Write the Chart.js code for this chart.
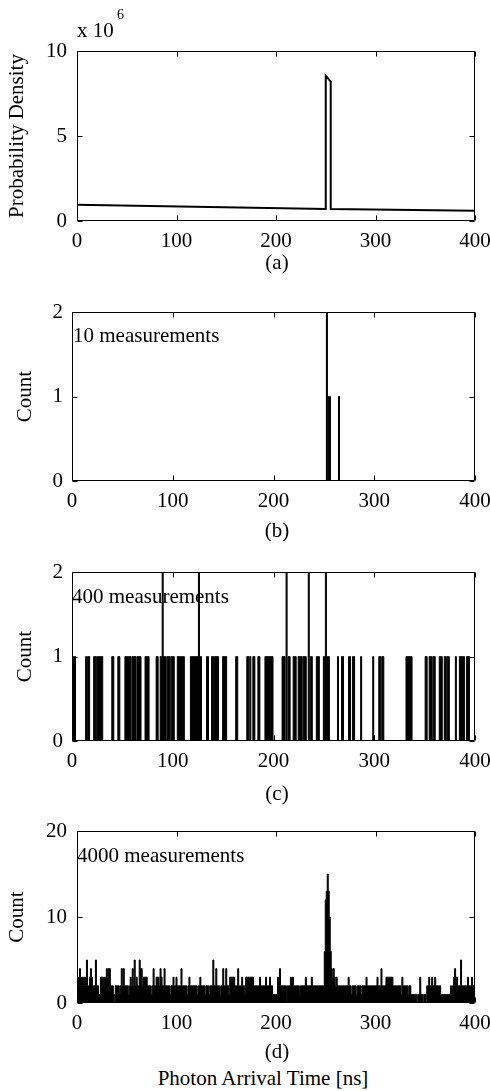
<!DOCTYPE html>
<html>
<head>
<meta charset="utf-8">
<script src="https://cdn.jsdelivr.net/npm/chart.js@4.4.1/dist/chart.umd.min.js"></script>
<style>
  body { margin: 0; background: #fff; }
  #page { position: relative; width: 490px; height: 1091px; overflow: hidden;
          font-family: 'Liberation Serif', 'Times New Roman', serif; color: #000; }
  canvas { position: absolute; left: 0; }
  .txt { position: absolute; font-size: 21px; line-height: 21px; white-space: nowrap; }
  .cap { position: absolute; left: 277px; transform: translateX(-50%); font-size: 21px; line-height: 21px; white-space: nowrap; }
</style>
</head>
<body>
<div id="page">
  <canvas id="chartA" width="490" height="256" style="top:0px"></canvas>
  <canvas id="chartB" width="490" height="226" style="top:290px"></canvas>
  <canvas id="chartC" width="490" height="226" style="top:550px"></canvas>
  <canvas id="chartD" width="490" height="228" style="top:810px"></canvas>

  <div class="txt" style="left:77px; top:20px;">x 10</div>
  <div class="txt" style="left:117px; top:8px; font-size:14px; line-height:14px;">6</div>
  <div class="txt" style="left:73px; top:325px;">10 measurements</div>
  <div class="txt" style="left:72px; top:586px;">400 measurements</div>
  <div class="txt" style="left:77px; top:845px;">4000 measurements</div>

  <div class="cap" style="top:252px;">(a)</div>
  <div class="cap" style="top:520px;">(b)</div>
  <div class="cap" style="top:783px;">(c)</div>
  <div class="cap" style="top:1041px;">(d)</div>
  <div class="cap" style="top:1068px; left:263px;">Photon Arrival Time [ns]</div>
</div>

<script>
// x axis: photon arrival time in ns, one bin per ns
const xTicks = [0, 100, 200, 300, 400];
const binCount = 400;

// (a) probability density, in units of 10^6
const timesA = [0, 250, 250, 255, 255, 400];
const densityA = [0.95, 0.71, 8.55, 8.2, 0.7, 0.6];

// (b) 10 measurements
const hitBinsB = [253, 255, 256, 265];
const hitCountsB = [2, 1, 1, 1];

// (c) 400 measurements: bins holding one count, bins holding two
const singleBinsC = [
  0, 1, 3, 14, 16, 17, 22, 23, 25, 26, 27, 28, 29, 30, 40, 41, 46, 47,
  53, 54, 55, 56, 57, 58, 60, 61, 62, 63, 65, 66, 67, 68, 73, 74, 75, 76,
  84, 85, 88, 89, 91, 92, 93, 95, 96, 97, 99, 100, 101, 105, 106, 107, 108, 109, 110, 111,
  118, 119, 120, 121, 122, 123, 124, 125, 127, 128, 134, 135, 139, 140, 142, 143, 144, 145,
  150, 151, 152, 153, 163, 164, 174, 175, 177, 180, 181, 185, 186,
  192, 193, 194, 195, 196, 197, 198, 199, 209, 210, 211, 215, 216, 220, 221, 222,
  225, 226, 227, 228, 230, 231, 232, 237, 238, 243, 244, 245, 250, 251, 253, 254, 255,
  264, 268, 269, 275, 276, 279, 280, 287, 299, 305, 306, 308, 309,
  332, 333, 334, 335, 336, 337, 351, 352, 355, 356, 357, 359, 360,
  365, 366, 367, 370, 371, 373, 374, 381, 385, 386, 387, 388, 389, 392, 393, 394
];
const doubleBinsC = [90, 126, 213, 235, 252];

// (d) 4000 measurements, counts per ns bin
const countsD = [
  2,3,2,4,2,3,3,2,3,2,  5,2,2,3,4,3,2,2,2,5,  2,2,1,1,3,3,3,2,3,3,  4,3,4,4,2,2,2,1,0,2,
  2,2,2,1,2,4,2,4,2,2,  2,2,1,2,3,2,4,2,5,2,  3,2,2,5,4,4,2,3,3,3,  3,2,2,2,2,1,2,4,2,2,
  3,3,3,2,4,3,2,2,4,2,  2,2,2,2,1,2,2,3,2,2,  3,2,2,2,2,4,2,2,2,2,  2,1,2,3,2,2,2,2,2,2,
  2,1,2,2,3,2,2,2,2,1,  2,2,2,1,2,2,2,5,2,2,  4,2,2,2,1,2,2,4,2,2,  4,2,2,1,3,3,3,3,3,2,
  2,2,4,2,2,2,3,2,2,1,  3,3,3,3,3,3,3,3,2,2,  2,2,2,2,3,2,2,2,2,2,  3,2,2,2,3,2,2,1,1,1,
  1,1,3,2,4,2,2,2,2,2,  2,0,2,2,2,3,2,3,2,2,  2,2,2,2,1,2,2,2,2,2,  3,2,2,2,2,2,3,2,2,2,
  2,2,2,2,2,2,2,2,2,6,  12,13,15,13,10,6,4,3,4,3,  2,3,2,2,2,2,2,2,2,2,  2,2,2,3,2,2,1,2,2,2,
  2,1,2,2,2,2,1,2,2,2,  2,3,2,2,2,2,2,2,2,2,  2,2,3,2,2,2,4,2,2,2,  2,3,3,3,3,3,3,3,2,2,
  2,2,2,2,2,2,1,3,2,2,  2,2,2,1,2,2,1,1,1,1,  1,1,0,1,1,3,1,1,0,1,  1,0,2,2,3,2,2,3,2,2,
  3,2,2,2,2,2,1,1,1,1,  1,1,1,1,1,1,2,1,2,3,  4,2,3,2,2,2,5,2,2,2,  2,2,2,3,2,2,2,3,2,2
];

Chart.defaults.font.family = "'Liberation Serif', 'Times New Roman', serif";
Chart.defaults.font.size = 21;
Chart.defaults.color = '#000';

function histogram(bins, counts) {
  const h = new Array(binCount).fill(0);
  bins.forEach((b, i) => { h[b] = counts[i]; });
  return h;
}

const countsB = histogram(hitBinsB, hitCountsB);
const countsC = histogram(
  singleBinsC.concat(doubleBinsC),
  singleBinsC.map(() => 1).concat(doubleBinsC.map(() => 2))
);

// box around the plot with inward ticks on all four sides
const framePlugin = {
  id: 'frame',
  afterDatasetsDraw(chart) {
    const { ctx, chartArea: a, scales: { x, y } } = chart;
    const L = Math.round(a.left) + 0.5, R = Math.round(a.right) - 0.5;
    const T = Math.round(a.top) + 0.5, B = Math.round(a.bottom) - 0.5;
    ctx.save();
    ctx.strokeStyle = '#000';
    ctx.lineWidth = 1;
    ctx.beginPath();
    ctx.rect(L, T, R - L, B - T);
    x.ticks.forEach(t => {
      const px = Math.round(x.getPixelForValue(t.value)) + 0.5;
      ctx.moveTo(px, B); ctx.lineTo(px, B - 5);
      ctx.moveTo(px, T); ctx.lineTo(px, T + 5);
    });
    y.ticks.forEach(t => {
      const py = Math.round(y.getPixelForValue(t.value)) + 0.5;
      ctx.moveTo(L, py); ctx.lineTo(L + 5, py);
      ctx.moveTo(R, py); ctx.lineTo(R - 5, py);
    });
    ctx.stroke();
    ctx.restore();
  }
};

function makeChart(id, dataset, cfg) {
  return new Chart(document.getElementById(id), {
    type: 'line',
    data: { datasets: [dataset] },
    plugins: [framePlugin],
    options: {
      responsive: false,
      animation: false,
      layout: { padding: { top: cfg.top, right: 15, bottom: 0, left: 0 } },
      plugins: { legend: { display: false }, tooltip: { enabled: false } },
      scales: {
        x: {
          type: 'linear', min: 0, max: 400,
          afterBuildTicks: s => { s.ticks = xTicks.map(v => ({ value: v })); },
          ticks: { padding: cfg.xPad, maxRotation: 0 },
          grid: { display: false, drawTicks: false },
          border: { display: false },
          afterFit: s => { s.height = cfg.xHeight; s.paddingLeft = 0; s.paddingRight = 0; }
        },
        y: {
          type: 'linear', min: cfg.yMin, max: cfg.yMax,
          ticks: { stepSize: cfg.yStep, padding: cfg.yPad },
          grid: { display: false, drawTicks: false },
          border: { display: false },
          title: { display: true, text: cfg.yTitle, padding: { top: cfg.titlePad, bottom: 0 } },
          afterFit: s => { s.width = cfg.left; s.paddingTop = 0; s.paddingBottom = 0; }
        }
      }
    }
  });
}

function histDataset(counts) {
  return {
    data: counts.map((c, i) => ({ x: i, y: c })),
    borderColor: '#000',
    backgroundColor: '#000',
    borderWidth: 1,
    fill: 'origin',
    stepped: 'middle',
    pointRadius: 0
  };
}

makeChart('chartA', {
  data: timesA.map((t, i) => ({ x: t, y: densityA[i] })),
  borderColor: '#000',
  borderWidth: 2,
  fill: false,
  tension: 0,
  pointRadius: 0
}, { top: 51, left: 77, xHeight: 35, xPad: 8, yPad: 10, yMin: 0, yMax: 10, yStep: 5,
     yTitle: 'Probability Density', titlePad: 5 });

makeChart('chartB', histDataset(countsB),
  { top: 22, left: 72, xHeight: 35, xPad: 8, yPad: 9, yMin: 0, yMax: 2, yStep: 1,
    yTitle: 'Count', titlePad: 13 });

makeChart('chartC', histDataset(countsC),
  { top: 22, left: 72, xHeight: 35, xPad: 8, yPad: 9, yMin: 0, yMax: 2, yStep: 1,
    yTitle: 'Count', titlePad: 13 });

makeChart('chartD', histDataset(countsD),
  { top: 21, left: 77, xHeight: 35, xPad: 8, yPad: 10, yMin: 0, yMax: 20, yStep: 10,
    yTitle: 'Count', titlePad: 5 });
</script>
</body>
</html>
